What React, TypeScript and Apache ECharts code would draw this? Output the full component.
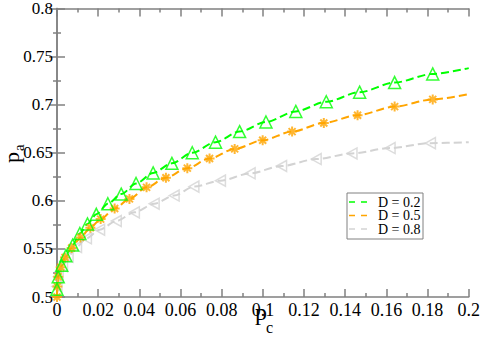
import React, { useEffect, useRef } from "react";
import * as echarts from "echarts";

const xTickLabels = ["0", "0.02", "0.04", "0.06", "0.08", "0.1", "0.12", "0.14", "0.16", "0.18", "0.2"];
const yTickLabels = ["0.5", "0.55", "0.6", "0.65", "0.7", "0.75", "0.8"];

const seriesNames = ["D = 0.2", "D = 0.5", "D = 0.8"];

const greenX = [0, 0.0006, 0.0023, 0.0043, 0.0076, 0.0111, 0.0148, 0.0191, 0.0247, 0.0312, 0.0384, 0.0467, 0.0558, 0.0657, 0.077, 0.0887, 0.1015, 0.116, 0.1308, 0.147, 0.164, 0.1825];
const greenY = [0.508, 0.521, 0.533, 0.543, 0.554, 0.566, 0.576, 0.586, 0.597, 0.607, 0.618, 0.629, 0.639, 0.65, 0.661, 0.672, 0.682, 0.693, 0.703, 0.713, 0.723, 0.732];
const greenEnd = 0.738;

const orangeX = [0, 0.0002, 0.0006, 0.0018, 0.0039, 0.0071, 0.0114, 0.0162, 0.0212, 0.028, 0.0352, 0.0435, 0.0529, 0.0633, 0.0741, 0.0863, 0.0999, 0.1142, 0.1296, 0.146, 0.164, 0.1825];
const orangeY = [0.5, 0.511, 0.521, 0.531, 0.541, 0.551, 0.562, 0.572, 0.581, 0.592, 0.602, 0.614, 0.624, 0.634, 0.644, 0.654, 0.663, 0.672, 0.681, 0.689, 0.698, 0.7055];
const orangeEnd = 0.711;

const grayX = [0, 0.0006, 0.0027, 0.0054, 0.0095, 0.0143, 0.0207, 0.0288, 0.0376, 0.0472, 0.0569, 0.0665, 0.0794, 0.0938, 0.1091, 0.1259, 0.1433, 0.1618, 0.1814];
const grayY = [0.511, 0.521, 0.532, 0.542, 0.552, 0.561, 0.57, 0.579, 0.588, 0.597, 0.6055, 0.6148, 0.621, 0.6286, 0.6362, 0.6434, 0.6493, 0.6549, 0.66];
const grayEnd = 0.661;

const GREEN = "#00ff00";
const ORANGE = "#ffa500";
const GRAY = "#d3d3d3";
const seriesColors = [GREEN, ORANGE, GRAY];
const AXIS = "#808080";
const FONT = "Liberation Serif";

const pairs = (xs: number[], ys: number[]) => xs.map((x, i) => [x, ys[i]]);

export default function App() {
  const ref = useRef<HTMLDivElement>(null);
  useEffect(() => {
    if (!ref.current) return;
    const chart = echarts.init(ref.current, null, { renderer: "svg" });
    const axisCommon = {
      axisLine: { show: true, lineStyle: { color: AXIS, width: 1.5 } },
      axisTick: { show: true, inside: true, length: 8, lineStyle: { color: AXIS, width: 1.5 } },
      minorTick: { show: true, splitNumber: 2, length: 4, lineStyle: { color: AXIS, width: 1.5 } },
      splitLine: { show: false },
    };
    const xAxisBase = { type: "value", min: 0, max: 0.2, interval: 0.02, ...axisCommon };
    const yAxisBase = { type: "value", min: 0.5, max: 0.8, interval: 0.05, ...axisCommon };
    const lineSeries = (name: string, xs: number[], ys: number[], end: number, color: string) => ({
      name,
      type: "line",
      data: pairs(xs, ys).concat([[0.2, end]]),
      symbol: "none",
      smooth: 0.3,
      smoothMonotone: "x",
      lineStyle: { color, width: 2, type: [8, 4] },
      itemStyle: { color },
      z: 2,
    });

    const legendLeft = 347;
    const legendTop = 193;
    const rowH = 13.5;
    const legendEls: any[] = [
      {
        type: "rect",
        shape: { x: legendLeft, y: legendTop, width: 76, height: 46 },
        style: { fill: "#fff", stroke: AXIS, lineWidth: 1 },
        z: 10,
      },
    ];
    seriesNames.forEach((name, i) => {
      const cy = legendTop + 9 + i * rowH;
      legendEls.push({
        type: "line",
        shape: { x1: legendLeft + 2, y1: cy, x2: legendLeft + 21, y2: cy },
        style: { stroke: seriesColors[i], lineWidth: 1.5, lineDash: [6, 6] },
        z: 11,
      });
      legendEls.push({
        type: "text",
        x: legendLeft + 31,
        y: cy,
        style: { text: name, font: `14px ${FONT}`, fill: "#000", textAlign: "left", textVerticalAlign: "middle" },
        z: 11,
      });
    });

    chart.setOption({
      animation: false,
      textStyle: { fontFamily: FONT },
      grid: { left: 57, top: 7, right: 11, bottom: 41 },
      xAxis: [
        {
          ...xAxisBase,
          position: "bottom",
          axisLabel: {
            margin: 4,
            fontFamily: FONT,
            fontSize: 18,
            color: "#000",
            formatter: (v: number) => xTickLabels[Math.round(v / 0.02)],
          },
        },
        { ...xAxisBase, position: "top", axisLabel: { show: false } },
      ],
      yAxis: [
        {
          ...yAxisBase,
          position: "left",
          axisLabel: {
            margin: 4,
            fontFamily: FONT,
            fontSize: 17,
            color: "#000",
            formatter: (v: number) => yTickLabels[Math.round((v - 0.5) / 0.05)],
          },
        },
        { ...yAxisBase, position: "right", axisLabel: { show: false } },
      ],
      graphic: [
        { type: "text", x: 255, y: 312, style: { text: "p", font: `24px ${FONT}`, fill: "#000", textAlign: "left", textVerticalAlign: "middle" } },
        { type: "text", x: 266, y: 327, style: { text: "c", font: `16px ${FONT}`, fill: "#000", textAlign: "left", textVerticalAlign: "middle" } },
        { type: "text", x: 11, y: 163, rotation: Math.PI / 2, style: { text: "p", font: `22px ${FONT}`, fill: "#000", textAlign: "left", textVerticalAlign: "middle" } },
        { type: "text", x: 19, y: 151, rotation: Math.PI / 2, style: { text: "a", font: `15px ${FONT}`, fill: "#000", textAlign: "left", textVerticalAlign: "middle" } },
        ...legendEls,
      ],
      series: [
        lineSeries(seriesNames[0], greenX, greenY, greenEnd, GREEN),
        lineSeries(seriesNames[1], orangeX, orangeY, orangeEnd, ORANGE),
        lineSeries(seriesNames[2], grayX, grayY, grayEnd, GRAY),
        {
          type: "scatter",
          data: pairs(grayX, grayY),
          symbol: "path://M0 5 L9 0 L9 10 Z",
          symbolKeepAspect: true,
          symbolSize: 11,
          itemStyle: { color: "rgba(255,255,255,0)", borderColor: GRAY, borderWidth: 1.5 },
          z: 3,
        },
        {
          type: "scatter",
          data: pairs(orangeX, orangeY),
          symbol: "path://M5 0 L5 10 M0 5 L10 5 M1.5 1.5 L8.5 8.5 M8.5 1.5 L1.5 8.5",
          symbolSize: 10,
          itemStyle: { color: ORANGE, borderColor: ORANGE, borderWidth: 2 },
          z: 4,
        },
        {
          type: "scatter",
          data: pairs(greenX, greenY),
          symbol: "triangle",
          symbolSize: 12,
          itemStyle: { color: "rgba(255,255,255,0)", borderColor: GREEN, borderWidth: 1.5 },
          z: 5,
        },
      ],
    });
    return () => chart.dispose();
  }, []);
  return <div ref={ref} style={{ position: "absolute", left: 0, top: 0, width: 483, height: 338 }} />;
}
